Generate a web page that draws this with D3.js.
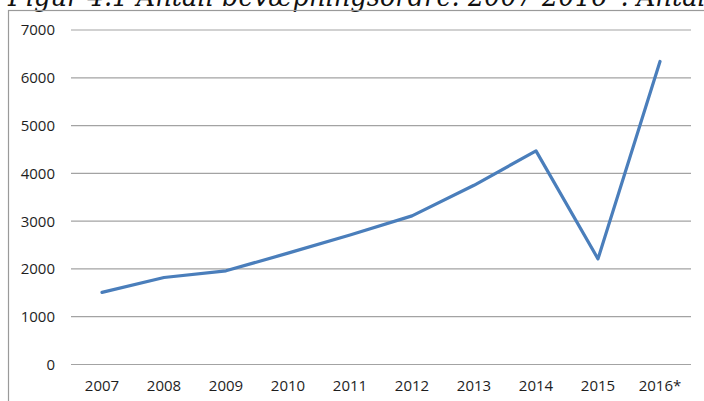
<!DOCTYPE html>
<html>
<head>
<meta charset="utf-8">
<script src="https://cdn.jsdelivr.net/npm/d3@7"></script>
<style>
  html, body { margin: 0; padding: 0; background: #fff; overflow: hidden; }
  svg { display: block; }
  .tick text { font-family: "Open Sans", sans-serif; font-size: 15px; fill: #1e1e1e; }
</style>
</head>
<body>
<script>
// data
var years = ['2007', '2008', '2009', '2010', '2011', '2012', '2013', '2014', '2015', '2016*']
var orders = [1500, 1810, 1950, 2320, 2700, 3100, 3740, 4460, 2200, 6330]
var yTicks = [0, 1000, 2000, 3000, 4000, 5000, 6000, 7000]
var title = 'Figur 4.1 Antall bevæpningsordre. 2007-2016*. Antall'

var w = 704, h = 401
var svg = d3.select('body').append('svg')
  .attr('width', w)
  .attr('height', h)

// title, mostly cropped off the top of the picture (as in the source)
svg.append('text')
  .attr('x', 8)
  .attr('y', 6)
  .attr('textLength', 706)
  .attr('lengthAdjust', 'spacingAndGlyphs')
  .style('font-family', '"DejaVu Serif", serif')
  .style('font-style', 'italic')
  .style('font-size', '27px')
  .style('fill', '#111')
  .text(title)

// chart frame, runs off to the right and bottom
svg.append('rect')
  .attr('x', 8.5)
  .attr('y', 10.5)
  .attr('width', 760)
  .attr('height', 460)
  .attr('fill', 'none')
  .attr('stroke', '#9a9a9a')
  .attr('stroke-width', 1.2)

var x = d3.scaleBand().domain(years).range([71, 691])
var y = d3.scaleLinear().domain([0, 7000]).range([364, 29.5])

var yAxis = svg.append('g')
  .attr('transform', 'translate(71,0)')
  .call(d3.axisLeft(y).tickValues(yTicks).tickSize(-620).tickPadding(16).tickFormat(d3.format('d')))
yAxis.select('.domain').remove()
yAxis.selectAll('.tick line').attr('stroke', '#a3a3a3').attr('stroke-width', 1.2)
yAxis.selectAll('.tick text').attr('dy', '0.36em')

var xAxis = svg.append('g')
  .attr('transform', 'translate(0,364)')
  .call(d3.axisBottom(x).tickSize(0).tickPadding(16))
xAxis.select('.domain').remove()

var line = d3.line()
  .x(function(d, i) { return x(years[i]) + x.bandwidth() / 2 })
  .y(function(d) { return y(d) })

svg.append('path')
  .datum(orders)
  .attr('d', line)
  .attr('fill', 'none')
  .attr('stroke', '#4a7ebb')
  .attr('stroke-width', 3.2)
  .attr('stroke-linejoin', 'round')
  .attr('stroke-linecap', 'round')
</script>
</body>
</html>
